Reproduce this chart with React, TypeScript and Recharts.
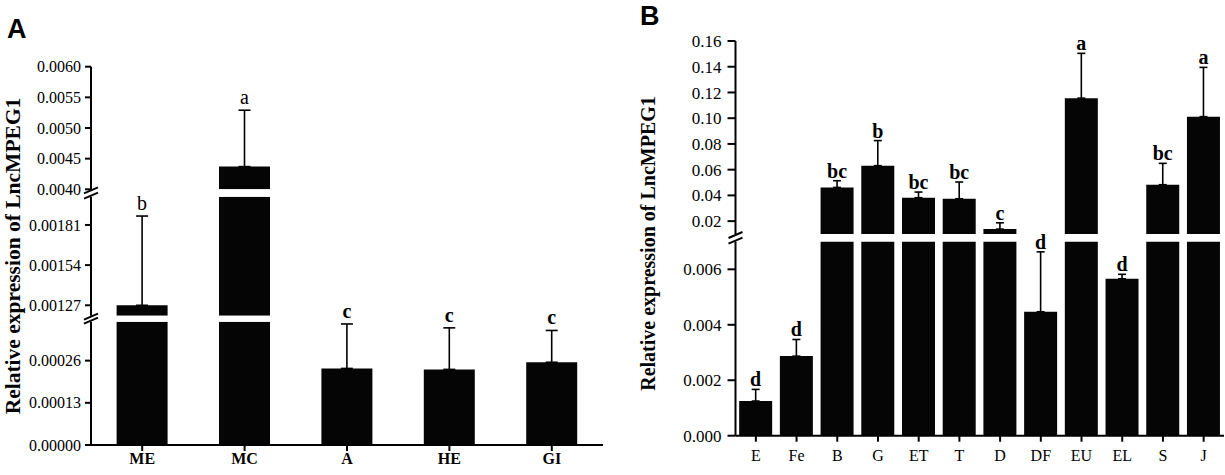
import React from 'react';
import { BarChart, Bar, XAxis, YAxis, ErrorBar, LabelList } from 'recharts';

// panel A: tissues
const tissuesA = ['ME', 'MC', 'A', 'HE', 'GI'];
const exprA = [0.00127, 0.00437, 0.000236, 0.000233, 0.000255];
const sdA = [0.0006, 0.00092, 0.000137, 0.000128, 0.000098];
const lettersA = ['b', 'a', 'c', 'c', 'c'];

// panel B: tissues
const tissuesB = ['E', 'Fe', 'B', 'G', 'ET', 'T', 'D', 'DF', 'EU', 'EL', 'S', 'J'];
const exprB = [0.00125, 0.00287, 0.0462, 0.0631, 0.0382, 0.0374, 0.0138, 0.00447, 0.1156, 0.00566, 0.0483, 0.1012];
const sdB = [0.00042, 0.0006, 0.0052, 0.0195, 0.0044, 0.013, 0.0049, 0.00216, 0.0348, 0.00016, 0.0166, 0.0383];
const lettersB = ['d', 'd', 'bc', 'b', 'bc', 'bc', 'c', 'd', 'a', 'd', 'bc', 'a'];

// y-axis ticks for each piece of the broken axes
const ticksA = [
  [0.004, 0.0045, 0.005, 0.0055, 0.006],
  [0.00127, 0.00154, 0.00181],
  [0, 0.00013, 0.00026],
];
const ticksB = [
  [0.02, 0.04, 0.06, 0.08, 0.1, 0.12, 0.14, 0.16],
  [0, 0.002, 0.004, 0.006],
];

const H = 475;
const SERIF = '"Liberation Serif", "Times New Roman", serif';
const SANS = '"Liberation Sans", Arial, sans-serif';
const XAXIS_H = 30;

type Seg = { lo: number; hi: number; top: number; bottom: number; ticks: number[]; digits: number };

const segsA: Seg[] = [
  { lo: 0.004, hi: 0.006, top: 66.7, bottom: 189.3, ticks: ticksA[0], digits: 4 },
  { lo: 0.0012, hi: 0.002, top: 196.7, bottom: 315.7, ticks: ticksA[1], digits: 5 },
  { lo: 0, hi: 0.00038, top: 321.7, bottom: 445, ticks: ticksA[2], digits: 5 },
];
const segsB: Seg[] = [
  { lo: 0.01, hi: 0.16, top: 41, bottom: 234, ticks: ticksB[0], digits: 2 },
  { lo: 0, hi: 0.007, top: 241.6, bottom: 435.7, ticks: ticksB[1], digits: 3 },
];

function rowsFor(names: string[], values: number[], errs: number[], letters: string[], seg: Seg) {
  return names.map((name, i) => {
    const v = values[i];
    if (v <= seg.lo) return { name };
    const ends = v <= seg.hi;
    return {
      name,
      v: Math.min(v, seg.hi),
      err: ends ? [0, errs[i]] : undefined,
      e: ends ? errs[i] : undefined,
      letter: ends ? letters[i] : undefined,
    };
  });
}

type PanelProps = {
  names: string[];
  values: number[];
  errs: number[];
  letters: string[];
  segs: Seg[];
  width: number;
  axisX: number;
  right: number;
  yFont: number;
  xFont: number;
  yTickSize: number;
  yTickMargin: number;
  xTickMargin: number;
  xBold: boolean;
  gap: string;
  cap: number;
  letterFont: number;
  letterOffset: number;
  letterWeight: (l: string) => string;
};

function Panel(p: PanelProps) {
  const yw = 80;
  const renderLetter = (props: any) => {
    const { x, y, width, value } = props;
    if (value == null) return null;
    return (
      <text
        x={x + width / 2}
        y={y - p.letterOffset}
        textAnchor="middle"
        fill="#000"
        style={{ fontFamily: SERIF, fontSize: p.letterFont, fontWeight: p.letterWeight(value) }}
      >
        {value}
      </text>
    );
  };
  return (
    <>
      {p.segs.map((seg, k) => {
        const isBottom = k === p.segs.length - 1;
        const data = rowsFor(p.names, p.values, p.errs, p.letters, seg);
        return (
          <div key={k} style={{ position: 'absolute', left: 0, top: 0 }}>
            <BarChart
              width={p.width}
              height={H}
              data={data}
              barCategoryGap={p.gap}
              margin={{
                top: seg.top,
                bottom: H - seg.bottom - (isBottom ? XAXIS_H : 0),
                left: p.axisX - yw,
                right: p.right,
              }}
            >
              {isBottom ? (
                <XAxis
                  dataKey="name"
                  height={XAXIS_H}
                  interval={0}
                  tickSize={6}
                  tickMargin={p.xTickMargin}
                  axisLine={{ stroke: '#000', strokeWidth: 2 }}
                  tickLine={{ stroke: '#000', strokeWidth: 2 }}
                  tick={{ fill: '#000', fontSize: p.xFont, fontFamily: SERIF, fontWeight: p.xBold ? 'bold' : 'normal' }}
                />
              ) : (
                <XAxis dataKey="name" hide />
              )}
              <YAxis
                width={yw}
                type="number"
                domain={[seg.lo, seg.hi]}
                allowDataOverflow
                ticks={seg.ticks}
                interval={0}
                tickSize={p.yTickSize}
                tickMargin={p.yTickMargin}
                tickFormatter={(t: number) => t.toFixed(seg.digits)}
                axisLine={{ stroke: '#000', strokeWidth: 2 }}
                tickLine={{ stroke: '#000', strokeWidth: 2 }}
                tick={{ fill: '#000', fontSize: p.yFont, fontFamily: SERIF }}
              />
              <Bar dataKey="v" stackId="s" fill="#050505" isAnimationActive={false}>
                <ErrorBar dataKey="err" direction="y" width={p.cap} stroke="#000" strokeWidth={1.6} />
              </Bar>
              <Bar dataKey="e" stackId="s" fill="none" isAnimationActive={false}>
                <LabelList dataKey="letter" content={renderLetter} />
              </Bar>
            </BarChart>
          </div>
        );
      })}
    </>
  );
}

function BreakMarks({ x, segs }: { x: number; segs: Seg[] }) {
  const marks: React.ReactNode[] = [];
  for (let k = 0; k < segs.length - 1; k++) {
    const ys = [segs[k].bottom + 1, segs[k + 1].top - 1];
    ys.forEach((y, j) => {
      marks.push(
        <line key={`${k}-${j}`} x1={x - 7} y1={y + 3} x2={x + 7} y2={y - 3} stroke="#000" strokeWidth={2} />
      );
    });
  }
  return <>{marks}</>;
}

export default function App() {
  const axisA = 91;
  const axisB = 735.5;
  return (
    <div style={{ position: 'absolute', left: 0, top: 0, width: 1225, height: H, background: '#fff', fontFamily: SERIF }}>
      <Panel
        names={tissuesA}
        values={exprA}
        errs={sdA}
        letters={lettersA}
        segs={segsA}
        width={620}
        axisX={axisA}
        right={17}
        yFont={16}
        xFont={16}
        yTickSize={6}
        yTickMargin={4}
        xTickMargin={2}
        xBold
        gap="25%"
        cap={6}
        letterFont={20}
        letterOffset={6}
        letterWeight={(l) => (l === 'c' ? 'bold' : 'normal')}
      />
      <Panel
        names={tissuesB}
        values={exprB}
        errs={sdB}
        letters={lettersB}
        segs={segsB}
        width={1225}
        axisX={axisB}
        right={1}
        yFont={17}
        xFont={16}
        yTickSize={8}
        yTickMargin={6}
        xTickMargin={8}
        xBold={false}
        gap="9%"
        cap={4}
        letterFont={20}
        letterOffset={3}
        letterWeight={() => 'bold'}
      />
      <svg width={1225} height={H} style={{ position: 'absolute', left: 0, top: 0, pointerEvents: 'none' }}>
        <text x={7} y={38} fill="#000" style={{ fontFamily: SANS, fontWeight: 'bold', fontSize: 27 }}>A</text>
        <text x={640} y={25} fill="#000" style={{ fontFamily: SANS, fontWeight: 'bold', fontSize: 27 }}>B</text>
        <text
          x={13}
          y={256}
          transform="rotate(-90 13 256)"
          textAnchor="middle"
          dominantBaseline="central"
          fill="#000"
          style={{ fontFamily: SERIF, fontWeight: 'bold', fontSize: 21.5 }}
        >
          Relative expression of LncMPEG1
        </text>
        <text
          x={648}
          y={243.5}
          transform="rotate(-90 648 243.5)"
          textAnchor="middle"
          dominantBaseline="central"
          fill="#000"
          style={{ fontFamily: SERIF, fontWeight: 'bold', fontSize: 20 }}
        >
          Relative expression of LncMPEG1
        </text>
        <BreakMarks x={axisA} segs={segsA} />
        <BreakMarks x={axisB} segs={segsB} />
      </svg>
    </div>
  );
}
